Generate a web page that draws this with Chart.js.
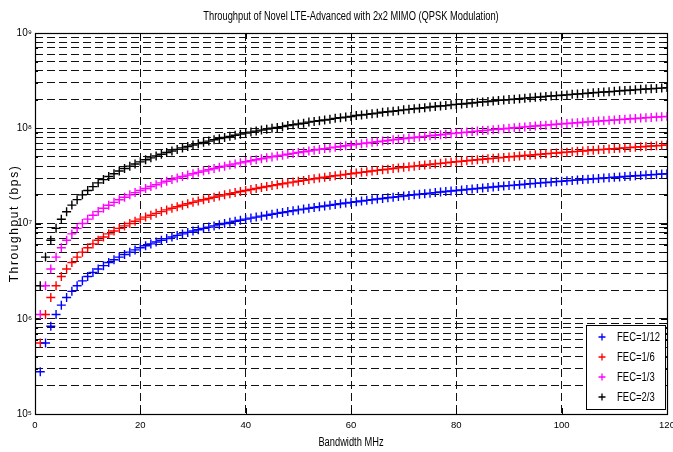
<!DOCTYPE html>
<html>
<head>
<meta charset="utf-8">
<script src="https://cdn.jsdelivr.net/npm/chart.js@4.4.1/dist/chart.umd.min.js"></script>
<style>
  html, body { margin: 0; padding: 0; background: #fff; }
  #wrap { width: 673px; height: 452px; }
</style>
</head>
<body>
<div id="wrap"><canvas id="c" width="673" height="452"></canvas></div>
<script>
const chartTitle = 'Throughput of Novel LTE-Advanced with 2x2 MIMO (QPSK Modulation)';
const xTitle = 'Bandwidth MHz';
const yTitle = 'Throughput (bps)';
const seriesLabels = ['FEC=1/12', 'FEC=1/6', 'FEC=1/3', 'FEC=2/3'];
const seriesColors = ['#0000ff', '#ff0000', '#ff00ff', '#000000'];

const bandwidth = [1,2,3,4,5,6,7,8,9,10,11,12,13,14,15,16,17,18,19,20,
  21,22,23,24,25,26,27,28,29,30,31,32,33,34,35,36,37,38,39,40,
  41,42,43,44,45,46,47,48,49,50,51,52,53,54,55,56,57,58,59,60,
  61,62,63,64,65,66,67,68,69,70,71,72,73,74,75,76,77,78,79,80,
  81,82,83,84,85,86,87,88,89,90,91,92,93,94,95,96,97,98,99,100,
  101,102,103,104,105,106,107,108,109,110,111,112,113,114,115,116,117,118,119,120];

// throughput in Mbps
const fec112 = [0.278,0.556,0.833,1.11,1.39,1.67,1.94,2.22,2.50,2.78,
  3.06,3.33,3.61,3.89,4.17,4.44,4.72,5.00,5.28,5.56,
  5.83,6.11,6.39,6.67,6.94,7.22,7.50,7.78,8.06,8.33,
  8.61,8.89,9.17,9.44,9.72,10.0,10.28,10.56,10.83,11.11,
  11.39,11.67,11.94,12.22,12.5,12.78,13.06,13.33,13.61,13.89,
  14.17,14.44,14.72,15.0,15.28,15.56,15.83,16.11,16.39,16.67,
  16.94,17.22,17.5,17.78,18.06,18.33,18.61,18.89,19.17,19.44,
  19.72,20.0,20.28,20.56,20.83,21.11,21.39,21.67,21.94,22.22,
  22.5,22.78,23.06,23.33,23.61,23.89,24.17,24.44,24.72,25.0,
  25.28,25.56,25.83,26.11,26.39,26.67,26.94,27.22,27.5,27.78,
  28.06,28.33,28.61,28.89,29.17,29.44,29.72,30.0,30.28,30.56,
  30.83,31.11,31.39,31.67,31.94,32.22,32.5,32.78,33.06,33.33];
const fec16 = [0.556,1.11,1.67,2.22,2.78,3.33,3.89,4.44,5.0,5.56,
  6.11,6.67,7.22,7.78,8.33,8.89,9.44,10.0,10.56,11.11,
  11.67,12.22,12.78,13.33,13.89,14.44,15.0,15.56,16.11,16.67,
  17.22,17.78,18.33,18.89,19.44,20.0,20.56,21.11,21.67,22.22,
  22.78,23.33,23.89,24.44,25.0,25.56,26.11,26.67,27.22,27.78,
  28.33,28.89,29.44,30.0,30.56,31.11,31.67,32.22,32.78,33.33,
  33.89,34.44,35.0,35.56,36.11,36.67,37.22,37.78,38.33,38.89,
  39.44,40.0,40.56,41.11,41.67,42.22,42.78,43.33,43.89,44.44,
  45.0,45.56,46.11,46.67,47.22,47.78,48.33,48.89,49.44,50.0,
  50.56,51.11,51.67,52.22,52.78,53.33,53.89,54.44,55.0,55.56,
  56.11,56.67,57.22,57.78,58.33,58.89,59.44,60.0,60.56,61.11,
  61.67,62.22,62.78,63.33,63.89,64.44,65.0,65.56,66.11,66.67];
const fec13 = [1.11,2.22,3.33,4.44,5.56,6.67,7.78,8.89,10.0,11.11,
  12.22,13.33,14.44,15.56,16.67,17.78,18.89,20.0,21.11,22.22,
  23.33,24.44,25.56,26.67,27.78,28.89,30.0,31.11,32.22,33.33,
  34.44,35.56,36.67,37.78,38.89,40.0,41.11,42.22,43.33,44.44,
  45.56,46.67,47.78,48.89,50.0,51.11,52.22,53.33,54.44,55.56,
  56.67,57.78,58.89,60.0,61.11,62.22,63.33,64.44,65.56,66.67,
  67.78,68.89,70.0,71.11,72.22,73.33,74.44,75.56,76.67,77.78,
  78.89,80.0,81.11,82.22,83.33,84.44,85.56,86.67,87.78,88.89,
  90.0,91.11,92.22,93.33,94.44,95.56,96.67,97.78,98.89,100.0,
  101.1,102.2,103.3,104.4,105.6,106.7,107.8,108.9,110.0,111.1,
  112.2,113.3,114.4,115.6,116.7,117.8,118.9,120.0,121.1,122.2,
  123.3,124.4,125.6,126.7,127.8,128.9,130.0,131.1,132.2,133.3];
const fec23 = [2.22,4.44,6.67,8.89,11.1,13.3,15.6,17.8,20.0,22.2,
  24.4,26.7,28.9,31.1,33.3,35.6,37.8,40.0,42.2,44.4,
  46.7,48.9,51.1,53.3,55.6,57.8,60.0,62.2,64.4,66.7,
  68.9,71.1,73.3,75.6,77.8,80.0,82.2,84.4,86.7,88.9,
  91.1,93.3,95.6,97.8,100,102,104,107,109,111,
  113,116,118,120,122,124,127,129,131,133,
  136,138,140,142,144,147,149,151,153,156,
  158,160,162,164,167,169,171,173,176,178,
  180,182,184,187,189,191,193,196,198,200,
  202,204,207,209,211,213,216,218,220,222,
  224,227,229,231,233,236,238,240,242,244,
  247,249,251,253,256,258,260,262,264,267];

const xTicks = [0, 20, 40, 60, 80, 100, 120];
const yTicks = [1e5,2e5,3e5,4e5,5e5,6e5,7e5,8e5,9e5,
  1e6,2e6,3e6,4e6,5e6,6e6,7e6,8e6,9e6,
  1e7,2e7,3e7,4e7,5e7,6e7,7e7,8e7,9e7,
  1e8,2e8,3e8,4e8,5e8,6e8,7e8,8e8,9e8,1e9];
const yMajorLabels = {1e5:'10⁵', 1e6:'10⁶', 1e7:'10⁷', 1e8:'10⁸', 1e9:'10⁹'};

const FONT = '"Liberation Sans", Arial, sans-serif';
const seriesValues = [fec112, fec16, fec13, fec23];

const datasets = seriesValues.map((vals, s) => ({
  label: seriesLabels[s],
  data: bandwidth.map((x, i) => ({ x: x, y: vals[i] * 1e6 })),
  showLine: false,
  pointStyle: 'cross',
  pointRadius: 4.5,
  pointBorderWidth: 1.4,
  borderColor: seriesColors[s],
  backgroundColor: seriesColors[s],
  pointHoverRadius: 4.5
}));

function narrowText(ctx, text, x, y, size, sx, align) {
  ctx.save();
  ctx.font = size + 'px ' + FONT;
  ctx.fillStyle = '#000';
  ctx.textBaseline = 'middle';
  ctx.textAlign = align || 'center';
  ctx.translate(x, y);
  ctx.scale(sx, 1);
  ctx.fillText(text, 0, 0);
  ctx.restore();
}

const frame = {
  id: 'frame',
  afterDraw(chart) {
    const { ctx, chartArea: a, scales } = chart;
    ctx.save();
    ctx.strokeStyle = '#000';
    ctx.lineWidth = 1.2;
    ctx.setLineDash([]);
    ctx.strokeRect(Math.round(a.left) + 0.5, Math.round(a.top) + 0.5,
      Math.round(a.right - a.left), Math.round(a.bottom - a.top));
    // inward tick marks
    ctx.lineWidth = 1;
    ctx.beginPath();
    xTicks.forEach(v => {
      const px = Math.round(scales.x.getPixelForValue(v)) + 0.5;
      ctx.moveTo(px, a.bottom); ctx.lineTo(px, a.bottom - 6);
      ctx.moveTo(px, a.top); ctx.lineTo(px, a.top + 6);
    });
    yTicks.forEach(v => {
      const len = yMajorLabels[v] ? 6 : 3;
      const py = Math.round(scales.y.getPixelForValue(v)) + 0.5;
      ctx.moveTo(a.left, py); ctx.lineTo(a.left + len, py);
      ctx.moveTo(a.right, py); ctx.lineTo(a.right - len, py);
    });
    ctx.stroke();

    const cx = (a.left + a.right) / 2;
    // chart title and x axis title
    narrowText(ctx, chartTitle, cx, 17, 12.5, 0.745);
    narrowText(ctx, xTitle, cx, 443, 12.5, 0.745);

    // y axis title with letter spacing
    ctx.save();
    ctx.translate(15, (a.top + a.bottom) / 2);
    ctx.rotate(-Math.PI / 2);
    ctx.font = '12px ' + FONT;
    try { ctx.letterSpacing = '1.6px'; } catch (e) {}
    ctx.fillStyle = '#000';
    ctx.textAlign = 'center';
    ctx.textBaseline = 'middle';
    ctx.fillText(yTitle, 0, 0);
    ctx.restore();

    // legend box inside plot (bottom right)
    const bx = 586, by = 325, bw = Math.round(a.right) - 586 - 2, bh = 84;
    ctx.fillStyle = '#fff';
    ctx.fillRect(bx, by, bw, bh);
    ctx.strokeStyle = '#000';
    ctx.lineWidth = 1;
    ctx.strokeRect(bx + 0.5, by + 0.5, bw, bh);
    chart.data.datasets.forEach((ds, i) => {
      const yy = by + 12 + i * 20;
      ctx.strokeStyle = ds.borderColor;
      ctx.lineWidth = 1.3;
      ctx.beginPath();
      ctx.moveTo(602 - 3.5, yy); ctx.lineTo(602 + 3.5, yy);
      ctx.moveTo(602, yy - 3.5); ctx.lineTo(602, yy + 3.5);
      ctx.stroke();
      narrowText(ctx, ds.label, 617, yy, 13, 0.73, 'left');
    });
    ctx.restore();
  }
};

new Chart(document.getElementById('c'), {
  type: 'scatter',
  data: { datasets: datasets },
  options: {
    responsive: false,
    animation: false,
    events: [],
    layout: { padding: { left: 0, right: 0, top: 33, bottom: 0 } },
    plugins: {
      legend: { display: false },
      tooltip: { enabled: false },
      title: { display: false }
    },
    scales: {
      x: {
        type: 'linear',
        min: 0, max: 120,
        afterBuildTicks: s => { s.ticks = xTicks.map(v => ({ value: v })); },
        afterFit: s => { s.height = 38; s.paddingRight = 6; s.paddingLeft = 0; },
        ticks: { color: '#000', font: { family: FONT, size: 9.5 }, padding: 6, maxRotation: 0 },
        grid: {
          drawTicks: false,
          color: c => (c.tick && (c.tick.value === 0 || c.tick.value === 120)) ? 'rgba(0,0,0,0)' : '#111',
          lineWidth: 1,
          borderDash: [8, 4]
        },
        border: { display: false, dash: [8, 4] }
      },
      y: {
        type: 'logarithmic',
        min: 1e5, max: 1e9,
        afterBuildTicks: s => { s.ticks = yTicks.map(v => ({ value: v })); },
        afterFit: s => { s.width = 35; s.paddingTop = 0; s.paddingBottom = 0; },
        ticks: {
          autoSkip: false,
          color: '#000',
          font: { family: FONT, size: 10 },
          padding: 3,
          callback: (v) => yMajorLabels[v] || ''
        },
        grid: {
          drawTicks: false,
          color: c => (c.tick && (c.tick.value === 1e5 || c.tick.value === 1e9)) ? 'rgba(0,0,0,0)' : '#111',
          lineWidth: 1,
          borderDash: [8, 4]
        },
        border: { display: false, dash: [8, 4] }
      }
    }
  },
  plugins: [frame]
});
</script>
</body>
</html>
